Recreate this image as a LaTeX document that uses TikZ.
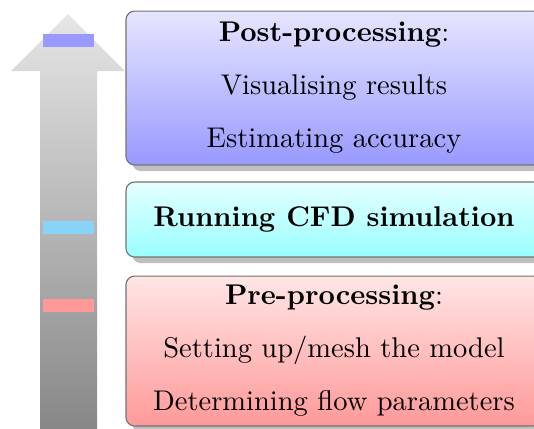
\documentclass[tikz,border=0pt]{standalone}
\usepackage{tikz}
\usetikzlibrary{shadows}
\definecolor{cfdbar}{RGB}{135,212,248}

\tikzset{
  stage/.style={draw=black!55,rounded corners=3pt,drop shadow,
    minimum width=146pt,align=center,inner sep=2pt},
  mark bar/.style={inner sep=0pt,minimum width=17.9pt,minimum height=4.6pt}
}

\begin{document}
\begin{tikzpicture}[x=0.351pt,y=-0.351pt]
\clip (0,0) rectangle (534,428);
%%%%%%%%% arrow
\path[top color=black!10,bottom color=black!48]
  (40,440) -- (40,71) -- (11,71) -- (68,14) -- (125,71) -- (97,71) -- (97,440) -- cycle;

\node[mark bar,fill=blue!40] (postbar) at (68.5,40.5) {};
\node[mark bar,fill=cfdbar] (cfdbar) at (68.5,227.5) {};
\node[mark bar,fill=red!40] (prebar) at (68.5,305.5) {};

%%%%%%%%% stages
\node[stage,top color=blue!10,bottom color=blue!40,minimum height=54pt] (post) at (334,88)
  {\textbf{Post-processing}:\\[6.6pt] Visualising results\\[6.6pt] Estimating accuracy};
\node[stage,top color=cyan!10,bottom color=cyan!40,minimum height=26.3pt] (cfd) at (334,219.5)
  {\textbf{Running CFD simulation}};
\node[stage,top color=red!10,bottom color=red!40,minimum height=52.6pt] (pre) at (334,351)
  {\textbf{Pre-processing}:\\[6.6pt] Setting up/mesh the model\\[6.6pt] Determining flow parameters};

\end{tikzpicture}
\end{document}
